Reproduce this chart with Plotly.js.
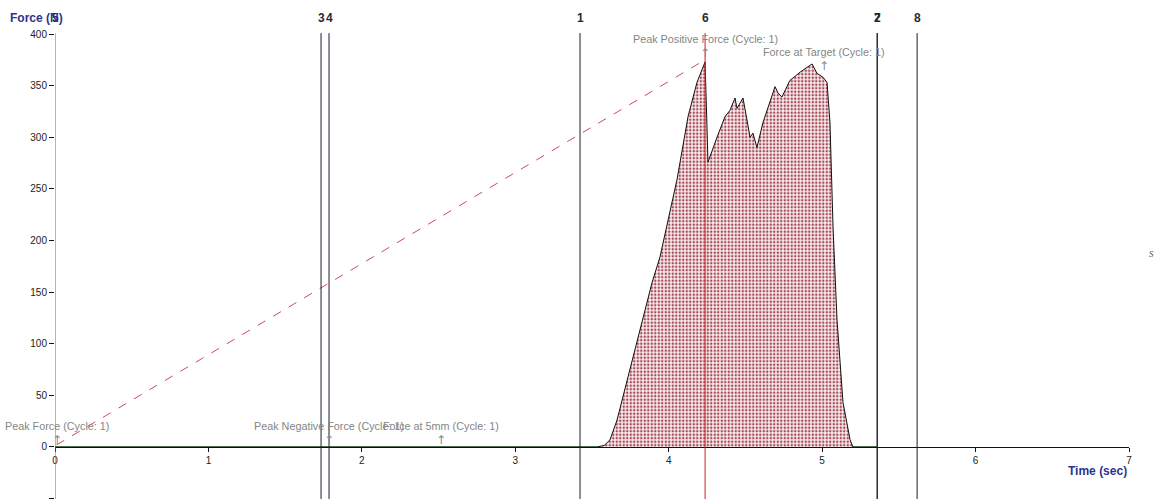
<!DOCTYPE html>
<html>
<head>
<meta charset="utf-8">
<script src="https://cdn.plot.ly/plotly-3.0.1.min.js"></script>
<style>html,body{margin:0;padding:0;background:#fff;}#chart{width:1159px;height:499px;}</style>
</head>
<body>
<div id="chart"></div>
<script>
// Force curve (Time in sec, Force in N)
var timeSec = [0, 0.5, 1.0, 1.5, 2.0, 2.5, 3.0, 3.533, 3.580, 3.617, 3.663, 3.748, 3.832, 3.891, 3.943, 3.995, 4.054, 4.126, 4.184, 4.237, 4.256, 4.315, 4.367, 4.399, 4.432, 4.445, 4.484, 4.510, 4.530, 4.549, 4.575, 4.614, 4.660, 4.693, 4.712, 4.738, 4.790, 4.856, 4.934, 4.966, 5.006, 5.032, 5.051, 5.071, 5.097, 5.136, 5.182, 5.201, 5.359];
var forceN  = [0, 0, 0, 0, 0, 0, 0, 0, 1.5, 6.8, 26, 75, 123, 159, 184, 220, 259, 320, 353, 373, 276, 300, 320, 326, 338, 328, 338, 317, 300, 304, 290, 314, 334, 349, 343, 339, 355, 363, 371, 362, 358, 353, 314, 213, 123, 43, 7, 0, 0];

// Markers (vertical lines)
var markerNames = ['1', '2', '3', '4', '5', '6', '7', '8'];
var markerTimes = [3.422, 5.359, 1.734, 1.786, 0, 4.237, 5.359, 5.619];
var markerColors = ['#1c1c2e', '#1c1c2e', '#1c1c2e', '#1c1c2e', '#c04848', '#d42020', '#1c1c2e', '#1c1c2e'];

// Result labels
var resultNames = ['Peak Force (Cycle: 1)', 'Peak Negative Force (Cycle: 1)', 'Force at 5mm (Cycle: 1)', 'Peak Positive Force (Cycle: 1)', 'Force at Target (Cycle: 1)'];
var resultTimes = [0.01, 1.786, 2.516, 4.237, 5.013];
var resultForces = [0, 0, 0, 375, 362];

// Dashed line between peak force points
var peakLineT = [0.01, 4.237];
var peakLineF = [2, 375];

var traces = [
  {
    x: [0, 5.359], y: [0, 0], mode: 'lines', type: 'scatter',
    line: {color: '#3aa83a', width: 1}, hoverinfo: 'skip', showlegend: false
  },
  {
    x: timeSec, y: forceN, mode: 'lines', type: 'scatter',
    line: {color: '#111111', width: 1},
    fill: 'tozeroy',
    fillcolor: '#fbeaea',
    fillpattern: {shape: '.', size: 3.5, solidity: 0.4, fgcolor: '#a24a5a', bgcolor: '#fdeeee'},
    showlegend: false
  },
  {
    x: peakLineT, y: peakLineF, mode: 'lines', type: 'scatter',
    line: {color: '#d04a5a', width: 1, dash: 'dash'}, showlegend: false
  }
];

var shapes = [];
var annotations = [];
for (var i = 0; i < markerNames.length; i++) {
  shapes.push({type: 'line', xref: 'x', yref: 'paper', x0: markerTimes[i], x1: markerTimes[i], y0: 0, y1: 1.002,
    line: {color: markerColors[i], width: 1}});
  annotations.push({xref: 'x', yref: 'paper', x: markerTimes[i], y: 1.0344, text: '<b>' + markerNames[i] + '</b>',
    showarrow: false, xanchor: 'center', yanchor: 'middle',
    font: {family: 'Liberation Sans, Arial', size: 12, color: '#2a2a2a'}});
}
for (var j = 0; j < resultNames.length; j++) {
  annotations.push({xref: 'x', yref: 'y', x: resultTimes[j], y: resultForces[j], text: '↑',
    showarrow: false, xanchor: 'center', yanchor: 'bottom', yshift: -2,
    font: {family: 'DejaVu Sans', size: 12, color: '#8a8a8a'}});
  annotations.push({xref: 'x', yref: 'y', x: resultTimes[j], y: resultForces[j], text: resultNames[j],
    showarrow: false, xanchor: 'center', yanchor: 'bottom', yshift: 13,
    font: {family: 'Liberation Sans, Arial', size: 10.8, color: '#858585'}});
}
annotations.push({xref: 'paper', yref: 'paper', x: -0.0438, y: 1.0344, text: '<b>Force (N)</b>',
  showarrow: false, xanchor: 'left', yanchor: 'middle',
  font: {family: 'Liberation Sans, Arial', size: 12, color: '#2b3590'}});
annotations.push({xref: 'paper', yref: 'paper', x: 1.0, y: 0.0602, text: '<b>Time (sec)</b>',
  showarrow: false, xanchor: 'right', yanchor: 'middle',
  font: {family: 'Liberation Sans, Arial', size: 12, color: '#2b3590'}});
annotations.push({xref: 'paper', yref: 'paper', x: 1.0214, y: 0.529, text: '<i>s</i>',
  showarrow: false, xanchor: 'center', yanchor: 'middle',
  font: {family: 'Liberation Serif, serif', size: 12, color: '#666666'}});

var layout = {
  width: 1159, height: 499,
  margin: {l: 55, r: 30, t: 34, b: 0, pad: 0},
  paper_bgcolor: '#ffffff', plot_bgcolor: '#ffffff',
  showlegend: false,
  xaxis: {
    range: [0, 7], dtick: 1, tick0: 0, showgrid: false, zeroline: false,
    showline: true, linecolor: '#111111', linewidth: 1,
    anchor: 'free', position: 0.1119,
    ticks: 'outside', ticklen: 4, tickcolor: '#111111',
    tickfont: {family: 'Liberation Sans, Arial', size: 10, color: '#222222'}
  },
  yaxis: {
    range: [-50.4, 400], dtick: 50, tick0: 0, showgrid: false, zeroline: false,
    showline: false,
    ticks: 'outside', ticklen: 5, tickcolor: '#111111',
    tickfont: {family: 'Liberation Sans, Arial', size: 10, color: '#222222'}
  },
  shapes: shapes,
  annotations: annotations
};

Plotly.newPlot('chart', traces, layout, {displayModeBar: false, staticPlot: true});
</script>
</body>
</html>
